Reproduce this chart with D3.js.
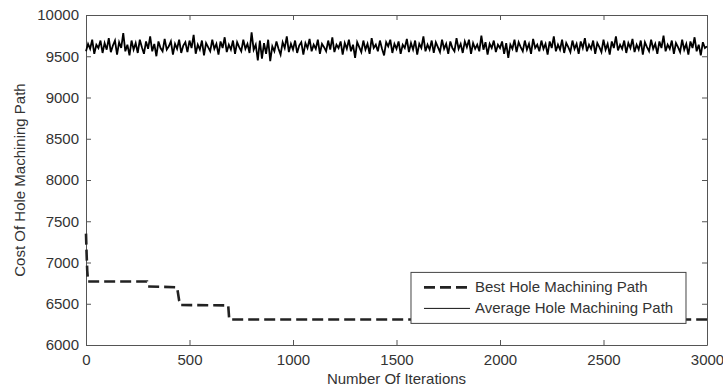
<!DOCTYPE html>
<html>
<head>
<meta charset="utf-8">
<script src="https://cdn.jsdelivr.net/npm/d3@7"></script>
<style>
  body { margin: 0; background: #fff; }
  text { font-family: "Liberation Sans", Arial, sans-serif; fill: #333; }
</style>
</head>
<body>
<div id="chart"></div>
<script>
// best path: step changes
let bestIter = [0, 3, 6, 10, 295, 300, 440, 445, 450, 455, 687, 692, 3000];
let bestCost = [7350, 7100, 6900, 6770, 6770, 6710, 6700, 6620, 6540, 6485, 6480, 6310, 6310];

// average path, one reading every 10 iterations (0..3000)
let avgStep = 10;
let avgCost = [
  9560, 9650, 9590, 9700, 9530, 9640, 9600, 9690, 9540, 9660, 9580, 9720, 9550, 9630, 9690, 9520, 9670, 9600, 9780, 9560,
  9640, 9510, 9690, 9580, 9660, 9540, 9700, 9610, 9530, 9680, 9590, 9740, 9560, 9650, 9500, 9680, 9600, 9560, 9710, 9580,
  9620, 9680, 9520, 9650, 9590, 9700, 9540, 9630, 9670, 9550, 9690, 9600, 9760, 9530, 9640, 9580, 9690, 9510, 9660, 9610,
  9560, 9700, 9590, 9650, 9520, 9680, 9600, 9730, 9550, 9640, 9580, 9690, 9530, 9670, 9610, 9560, 9700, 9590, 9650, 9540,
  9790, 9580, 9640, 9450, 9690, 9470, 9660, 9530, 9700, 9440, 9620, 9560, 9680, 9590, 9520, 9670, 9600, 9740, 9550, 9650,
  9580, 9690, 9540, 9630, 9670, 9520, 9660, 9600, 9710, 9560, 9640, 9590, 9700, 9530, 9650, 9610, 9560, 9690, 9580, 9730,
  9550, 9640, 9600, 9680, 9520, 9660, 9590, 9700, 9560, 9640, 9480, 9670, 9610, 9550, 9690, 9580, 9650, 9530, 9720, 9600,
  9640, 9560, 9690, 9590, 9510, 9670, 9620, 9700, 9540, 9650, 9590, 9680, 9530, 9640, 9600, 9710, 9550, 9660, 9580, 9690,
  9520, 9650, 9600, 9740, 9560, 9640, 9580, 9690, 9540, 9670, 9610, 9550, 9700, 9590, 9650, 9530, 9680, 9600, 9560, 9720,
  9590, 9650, 9540, 9680, 9610, 9700, 9530, 9660, 9590, 9640, 9560, 9750, 9580, 9670, 9520, 9650, 9600, 9690, 9550, 9640,
  9600, 9680, 9530, 9660, 9480, 9640, 9590, 9700, 9550, 9670, 9610, 9560, 9690, 9580, 9650, 9530, 9710, 9600, 9640, 9560,
  9690, 9590, 9650, 9520, 9680, 9600, 9740, 9560, 9640, 9580, 9700, 9540, 9660, 9610, 9550, 9690, 9590, 9650, 9530, 9680,
  9600, 9720, 9560, 9640, 9590, 9690, 9530, 9660, 9610, 9550, 9700, 9580, 9650, 9520, 9680, 9600, 9740, 9570, 9640, 9590,
  9690, 9540, 9660, 9600, 9710, 9550, 9640, 9580, 9690, 9520, 9670, 9610, 9560, 9700, 9590, 9650, 9530, 9680, 9600, 9750,
  9560, 9640, 9590, 9690, 9530, 9660, 9610, 9550, 9700, 9580, 9650, 9520, 9680, 9600, 9730, 9560, 9640, 9510, 9670, 9600,
  9620
];

let xTicks = [0, 500, 1000, 1500, 2000, 2500, 3000];
let yTicks = [6000, 6500, 7000, 7500, 8000, 8500, 9000, 9500, 10000];
let seriesNames = ["Best Hole Machining Path", "Average Hole Machining Path"];

let W = 723, H = 388;
let margin = { top: 15, right: 16, bottom: 43, left: 86 };
let width = W - margin.left - margin.right;
let height = H - margin.top - margin.bottom;

let svg = d3.select("#chart").append("svg")
    .attr("width", W)
    .attr("height", H);

let g = svg.append("g")
    .attr("transform", "translate(" + margin.left + "," + margin.top + ")");

let x = d3.scaleLinear().domain([0, 3000]).range([0, width]);
let y = d3.scaleLinear().domain([6000, 10000]).range([height, 0]);
let fmt = d3.format("d");

// axes, ticks pointing inwards like matlab, mirrored on top/right
function styleAxis(sel) {
    sel.select(".domain").attr("stroke", "#555");
    sel.selectAll(".tick line").attr("stroke", "#555");
    sel.selectAll("text")
        .style("font-family", '"Liberation Sans", Arial, sans-serif')
        .style("font-size", "15px")
        .attr("fill", "#333");
}

g.append("g")
    .attr("transform", "translate(0," + height + ")")
    .call(d3.axisBottom(x).tickValues(xTicks).tickFormat(fmt).tickSize(-5).tickPadding(9).tickSizeOuter(0))
    .call(styleAxis);
g.append("g")
    .call(d3.axisTop(x).tickValues(xTicks).tickSize(-5).tickFormat("").tickSizeOuter(0))
    .call(styleAxis);
g.append("g")
    .call(d3.axisLeft(y).tickValues(yTicks).tickFormat(fmt).tickSize(-5).tickPadding(7).tickSizeOuter(0))
    .call(styleAxis);
g.append("g")
    .attr("transform", "translate(" + width + ",0)")
    .call(d3.axisRight(y).tickValues(yTicks).tickSize(-5).tickFormat("").tickSizeOuter(0))
    .call(styleAxis);

// average line
let avgLine = d3.line()
    .x((d, i) => x(i * avgStep))
    .y(d => y(d));

g.append("path")
    .datum(avgCost)
    .attr("fill", "none")
    .attr("stroke", "#000")
    .attr("stroke-width", 1.8)
    .attr("d", avgLine);

// best line
let bestLine = d3.line()
    .x((d, i) => x(bestIter[i]))
    .y(d => y(d));

g.append("path")
    .datum(bestCost)
    .attr("fill", "none")
    .attr("stroke", "#222")
    .attr("stroke-width", 2.6)
    .attr("stroke-dasharray", "11,5")
    .attr("d", bestLine);

// legend
let legend = g.append("g").attr("transform", "translate(" + (x(1570)) + "," + (y(6880)) + ")");
legend.append("rect")
    .attr("width", 275).attr("height", 51)
    .attr("fill", "#fff").attr("stroke", "#444").attr("stroke-width", 1);

seriesNames.forEach(function (name, i) {
    let ly = 15 + i * 21;
    legend.append("line")
        .attr("x1", 13).attr("x2", 59)
        .attr("y1", ly).attr("y2", ly)
        .attr("stroke", i === 0 ? "#222" : "#111")
        .attr("stroke-width", i === 0 ? 2.6 : 1)
        .attr("stroke-dasharray", i === 0 ? "11,5" : null);
    legend.append("text")
        .attr("x", 64).attr("y", ly + 5)
        .style("font-size", "15px")
        .text(name);
});

// axis titles
svg.append("text")
    .attr("x", margin.left + width / 2)
    .attr("y", 384)
    .attr("text-anchor", "middle")
    .style("font-size", "15px")
    .text("Number Of Iterations");

svg.append("text")
    .attr("transform", "translate(25," + (margin.top + height / 2) + ") rotate(-90)")
    .attr("text-anchor", "middle")
    .style("font-size", "15px")
    .text("Cost Of Hole Machining Path");
</script>
</body>
</html>
